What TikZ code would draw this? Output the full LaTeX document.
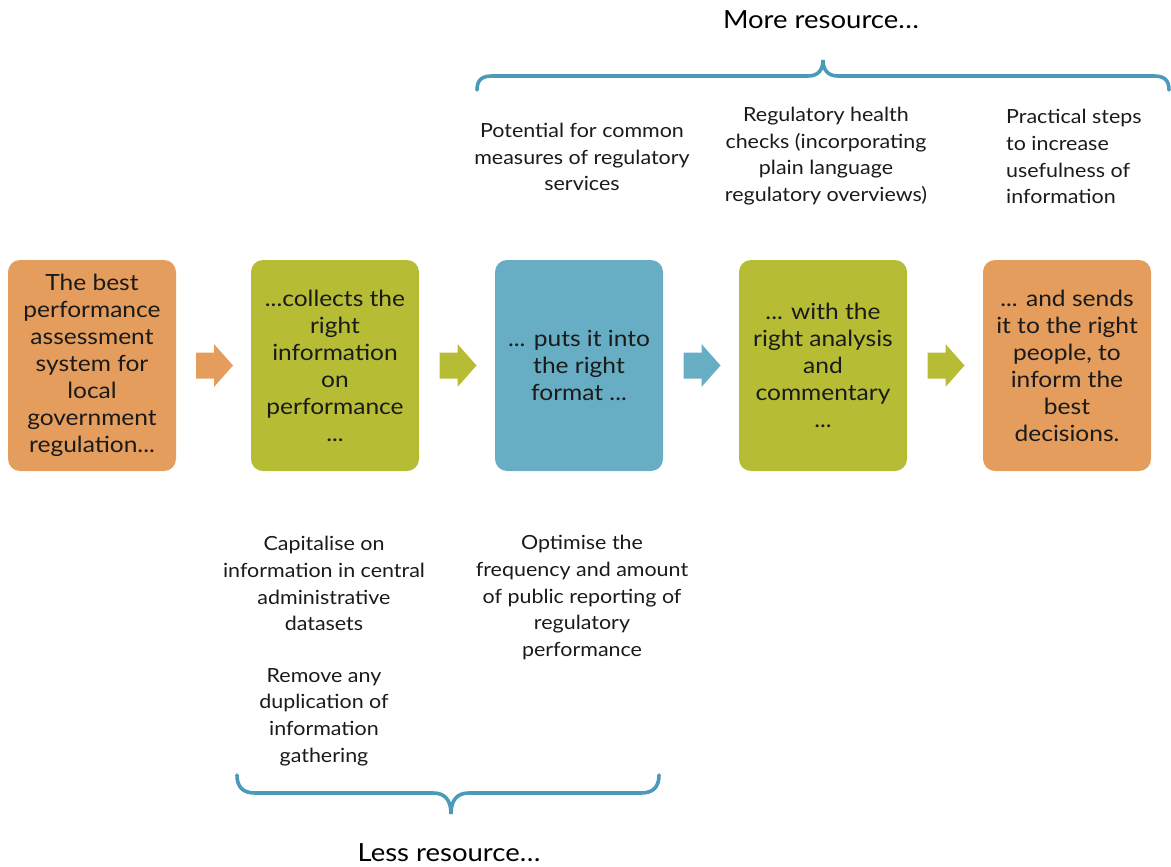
\documentclass[tikz,border=0pt]{standalone}
\usepackage{fontspec}
\setmainfont{Lato}[FakeStretch=1.1]
\usetikzlibrary{calc}
\definecolor{orangeC}{HTML}{E49D5C}
\definecolor{greenC}{HTML}{B6BD35}
\definecolor{blueC}{HTML}{67AEC5}
\definecolor{braceC}{HTML}{4A9BBA}
\definecolor{txt}{HTML}{1A1A1A}
\tikzset{
  stepbox/.style={rounded corners=12pt, minimum width=168pt, minimum height=211pt, inner sep=0pt, align=center, text=txt,
    font=\fontsize{22.3}{27}\selectfont},
  note/.style={align=center, text=txt, inner sep=0pt, font=\fontsize{19.5}{26.8}\selectfont},
  biglabel/.style={text=black, inner sep=0pt, font=\fontsize{25}{27}\selectfont},
  bracepath/.style={draw=braceC, line width=3.6pt, line cap=round},
  pics/barrow/.style={code={\fill[#1] (0,-13) -- (18,-13) -- (18,-21.5) -- (37,0) -- (18,21.5) -- (18,13) -- (0,13) -- cycle;}}
}
\begin{document}
\begin{tikzpicture}[x=1pt,y=-1pt]
\useasboundingbox (0,0) rectangle (1171,867);
\clip (0,0) rectangle (1171,867);
% boxes
\node[stepbox, fill=orangeC] (b1) at (92,365.5) {The best\\performance\\assessment\\system for\\local\\government\\regulation...};
\node[stepbox, fill=greenC] (b2) at (335,365.5) {...collects the\\right\\information\\on\\performance\\...};
\node[stepbox, fill=blueC] (b3) at (579,365.5) {... puts it into\\the right\\format ...};
\node[stepbox, fill=greenC] (b4) at (823,365.5) {... with the\\right analysis\\and\\commentary\\...};
\node[stepbox, fill=orangeC] (b5) at (1067,365.5) {... and sends\\it to the right\\people, to\\inform the\\best\\decisions.};
% block arrows
\pic at ($(b1.east)!0.5!(b2.west)+(-17.5,0)$) {barrow=orangeC};
\pic at ($(b2.east)!0.5!(b3.west)+(-17.5,0)$) {barrow=greenC};
\pic at ($(b3.east)!0.5!(b4.west)+(-17.5,0)$) {barrow=blueC};
\pic at ($(b4.east)!0.5!(b5.west)+(-17.5,0)$) {barrow=greenC};
% top notes
\node[note] (n1) at (582,157) {Potential for common\\measures of regulatory\\services};
\node[note] (n2) at (826,156) {Regulatory health\\checks (incorporating\\plain language\\regulatory overviews)};
\node[note, anchor=west, align=left] (n3) at (1006,156.5) {Practical steps\\to increase\\usefulness of\\information};
% bottom notes
\node[note] (n4) at (324,583.5) {Capitalise on\\information in central\\administrative\\datasets};
\node[note] (n5) at (324,717) {Remove any\\duplication of\\information\\gathering};
\node[note] (n6) at (582,597.5) {Optimise the\\frequency and amount\\of public reporting of\\regulatory\\performance};
% braces
\draw[bracepath] (477,90) .. controls (477,80) and (482,76) .. (492,76) -- (808,76)
  .. controls (818,76) and (823,70) .. (823,60) .. controls (823,70) and (828,76) .. (838,76)
  -- (1154,76) .. controls (1164,76) and (1169,80) .. (1169,90);
\draw[bracepath] (237,775) .. controls (237,787) and (243,793) .. (255,793) -- (433,793)
  .. controls (445,793) and (451,800) .. (451,814) .. controls (451,800) and (457,793) .. (469,793)
  -- (641,793) .. controls (653,793) and (659,787) .. (659,775);
\node[biglabel] (more) at (821,20) {More resource…};
\node[biglabel] (less) at (449,853) {Less resource…};
\end{tikzpicture}
\end{document}
